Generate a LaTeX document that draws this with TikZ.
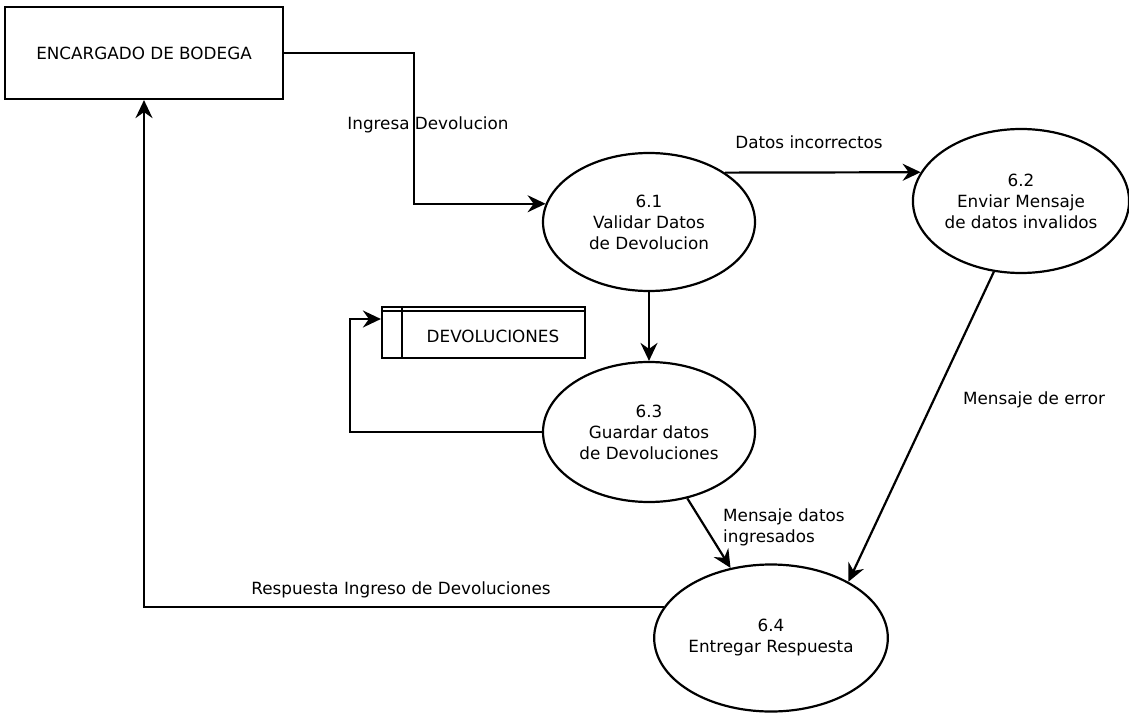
\documentclass[tikz,border=0pt]{standalone}
\usepackage{fontspec}
\setmainfont{DejaVu Sans}
\usetikzlibrary{arrows.meta,shapes.geometric}

\tikzset{
  base/.style={draw=black, line width=2.2pt, font=\fontsize{16.8}{21}\selectfont, align=center, inner sep=0pt},
  entity/.style={base, rectangle, minimum width=278pt, minimum height=92pt},
  process/.style={base, ellipse},
  flow/.style={draw=black, line width=2.2pt, -{Stealth[length=18pt,width=17pt,inset=6pt]}},
  lbl/.style={font=\fontsize{16.8}{21}\selectfont, inner sep=0pt, text=black},
}

\begin{document}
\begin{tikzpicture}[x=1pt,y=-1pt]
  \useasboundingbox (0,0) rectangle (1129,714);

  % external entity
  \node[entity] (ent) at (144,53) {ENCARGADO DE BODEGA};

  % processes
  \node[process, minimum width=212pt, minimum height=138pt] (p61) at (649,222)
    {6.1\\Validar Datos\\de Devolucion};
  \node[process, minimum width=212pt, minimum height=144pt] (p62) at (1021,201)
    {6.2\\Enviar Mensaje\\de datos invalidos};
  \node[process, minimum width=212pt, minimum height=140pt] (p63) at (649,432)
    {6.3\\Guardar datos\\de Devoluciones};
  \node[process, minimum width=214pt, minimum height=147pt] (p64) at (771,638)
    {6.4\\Entregar Respuesta};

  % data store
  \node[base, rectangle, minimum width=203pt, minimum height=51pt] (ds) at (483.5,332.5) {};
  \draw[line width=1.6pt] ([yshift=-5pt]ds.north west) -- ([yshift=-5pt]ds.north east);
  \draw[line width=2.2pt] ([xshift=21pt]ds.north west) -- ([xshift=21pt]ds.south west);
  \node[lbl] (dstext) at (493,336) {DEVOLUCIONES};

  % data flows
  \draw[flow] (ent.east) -| (414,150) |- (p61.170);
  \draw[flow] (p61.33) -- (p62.164);
  \draw[flow] (p61.south) -- (p63.north);
  \draw[flow] (p63.west) -| (350,380) |- ([yshift=13.5pt]ds.west);
  \draw[flow] (p63.-60) -- (p64.120);
  \draw[flow] (p62.249) -- (p64.36);
  \draw[flow] (p64.164) -| (ent.south);

  % flow labels
  \node[lbl] (l1) at (428,125) {Ingresa Devolucion};
  \node[lbl] (l2) at (809,142) {Datos incorrectos};
  \node[lbl] (l3) at (1034,400) {Mensaje de error};
  \node[lbl, anchor=west, align=left] (l4) at (723,527) {Mensaje datos\\ingresados};
  \node[lbl] (l5) at (401,590) {Respuesta Ingreso de Devoluciones};
\end{tikzpicture}
\end{document}
